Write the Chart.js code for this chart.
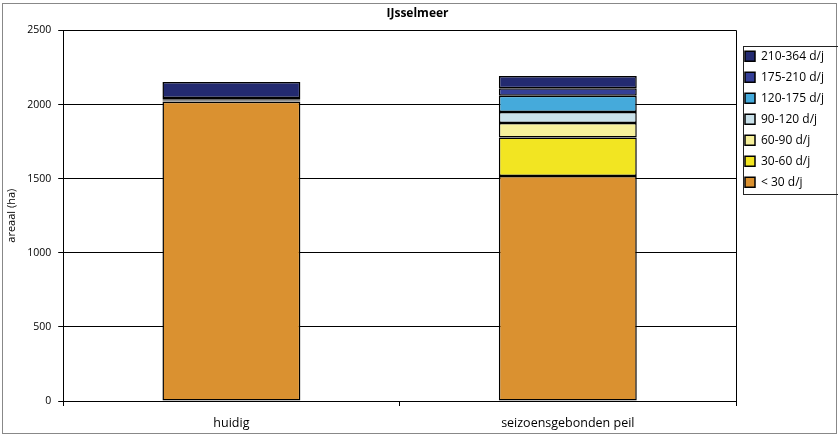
<!DOCTYPE html>
<html>
<head>
<meta charset="utf-8">
<script src="https://cdn.jsdelivr.net/npm/chart.js@4"></script>
<style>
  html, body { margin: 0; padding: 0; background: #fff; }
  #wrap { width: 838px; height: 436px; }
</style>
</head>
<body>
<div id="wrap"><canvas id="chart" width="838" height="436"></canvas></div>
<script>
// categories and series (ha)
const categories = ["huidig", "seizoensgebonden peil"];
const klassen = ["< 30 d/j", "30-60 d/j", "60-90 d/j", "90-120 d/j", "120-175 d/j", "175-210 d/j", "210-364 d/j"];
const lt30 = [2018, 1518];
const d30_60 = [3, 259];
const d60_90 = [3, 98];
const d90_120 = [3, 75];
const d120_175 = [5, 110];
const d175_210 = [12, 49];
const d210_364 = [108, 83];
const kleuren = ["#DA9130", "#F2E522", "#F6F09B", "#C9E1EA", "#45AADB", "#343F97", "#232A70"];
const yTicks = [0, 500, 1000, 1500, 2000, 2500];

const series = [lt30, d30_60, d60_90, d90_120, d120_175, d175_210, d210_364];

const fontFam = "'Open Sans', 'DejaVu Sans', sans-serif";

// frame round the whole picture and the legend, plus plot box
const frames = {
  id: "frames",
  beforeDraw(chart) {
    const ctx = chart.ctx;
    ctx.save();
    ctx.strokeStyle = "#888";
    ctx.lineWidth = 1;
    ctx.strokeRect(2.5, 3.5, 834, 430);
    ctx.restore();
  },
  afterDraw(chart) {
    const ctx = chart.ctx;
    const a = chart.chartArea;
    ctx.save();
    ctx.strokeStyle = "#000";
    ctx.lineWidth = 1;
    ctx.beginPath();
    ctx.moveTo(Math.round(a.left) + 0.5, Math.round(a.top) + 0.5);
    ctx.lineTo(Math.round(a.right) + 0.5, Math.round(a.top) + 0.5);
    ctx.lineTo(Math.round(a.right) + 0.5, Math.round(a.bottom) + 0.5);
    ctx.stroke();
    const hb = chart.legend.legendHitBoxes;
    if (hb && hb.length) {
      const top = Math.min(...hb.map(h => h.top)) - 4;
      const bottom = Math.max(...hb.map(h => h.top + h.height)) + 6;
      const left = Math.min(...hb.map(h => h.left)) - 2;
      ctx.strokeStyle = "#222";
      ctx.strokeRect(Math.round(left) + 0.5, Math.round(top) + 0.5, 840 - left, Math.round(bottom - top));
    }
    ctx.restore();
  }
};

new Chart(document.getElementById("chart"), {
  type: "bar",
  data: {
    labels: categories,
    datasets: series.map((s, i) => ({
      label: klassen[i],
      data: s,
      backgroundColor: kleuren[i],
      borderColor: "#000",
      borderWidth: 1.5,
      borderSkipped: false,
      barPercentage: 0.41,
      categoryPercentage: 1
    }))
  },
  options: {
    responsive: false,
    animation: false,
    layout: { padding: { left: 5, right: 8, top: 4, bottom: -5 } },
    plugins: {
      title: {
        display: true,
        text: "IJsselmeer",
        color: "#000",
        font: { family: fontFam, size: 12, weight: "bold" },
        padding: { top: 2, bottom: 10 }
      },
      legend: {
        position: "right",
        align: "start",
        reverse: true,
        maxWidth: 94,
        title: { display: true, text: " ", font: { size: 1 }, padding: { top: 36, bottom: 0 } },
        labels: {
          color: "#000",
          font: { family: fontFam, size: 12 },
          boxWidth: 10,
          boxHeight: 10,
          padding: 9
        }
      },
      tooltip: { enabled: false }
    },
    scales: {
      x: {
        stacked: true,
        grid: { display: true, drawOnChartArea: false, drawTicks: true, tickLength: 5, color: "#000" },
        border: { color: "#000", width: 1 },
        ticks: { color: "#000", font: { family: fontFam, size: 12.5 }, padding: 10 }
      },
      y: {
        stacked: true,
        min: 0,
        max: 2500,
        afterBuildTicks(axis) { axis.ticks = yTicks.map(v => ({ value: v })); },
        title: {
          display: true,
          text: "areaal (ha)",
          color: "#000",
          font: { family: fontFam, size: 11 },
          padding: { top: 0, bottom: 2 }
        },
        grid: { color: "#000", lineWidth: 1, tickLength: 5 },
        border: { color: "#000", width: 1 },
        ticks: {
          color: "#000",
          font: { family: fontFam, size: 10.5 },
          padding: 7,
          callback: v => String(v)
        }
      }
    }
  },
  plugins: [frames]
});
</script>
</body>
</html>
